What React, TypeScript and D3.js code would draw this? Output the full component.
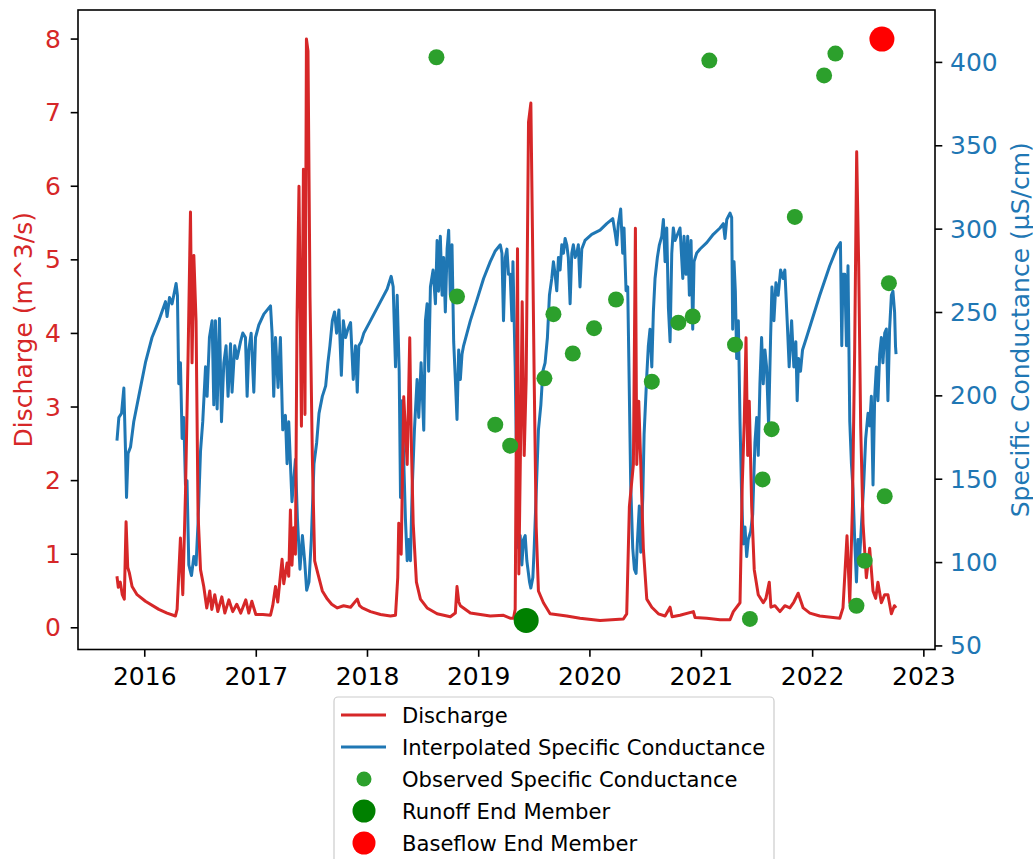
import React from "react";
import * as d3 from "d3";

// Daily discharge (m^3/s), time as decimal year
const dischargeSeries: [number, number][] = [
  [2015.750, 0.70], [2015.762, 0.55], [2015.780, 0.62], [2015.798, 0.45], [2015.816, 0.39],
  [2015.832, 1.44], [2015.847, 0.82], [2015.861, 0.75], [2015.886, 0.56], [2015.931, 0.45],
  [2016.006, 0.36], [2016.126, 0.25], [2016.200, 0.20], [2016.275, 0.16], [2016.290, 0.25],
  [2016.320, 1.22], [2016.341, 0.45], [2016.365, 1.82], [2016.388, 3.66], [2016.410, 5.65],
  [2016.424, 3.60], [2016.440, 5.06], [2016.460, 4.17], [2016.478, 1.54], [2016.500, 0.79],
  [2016.529, 0.56], [2016.556, 0.27], [2016.583, 0.50], [2016.601, 0.25], [2016.628, 0.45],
  [2016.655, 0.22], [2016.691, 0.42], [2016.718, 0.20], [2016.754, 0.38], [2016.789, 0.22],
  [2016.825, 0.32], [2016.861, 0.20], [2016.906, 0.38], [2016.933, 0.20], [2016.960, 0.36],
  [2016.996, 0.18], [2017.059, 0.18], [2017.128, 0.17], [2017.148, 0.30], [2017.173, 0.56],
  [2017.193, 0.35], [2017.232, 0.93], [2017.247, 0.60], [2017.277, 0.88], [2017.292, 0.70],
  [2017.307, 1.60], [2017.321, 0.85], [2017.337, 1.36], [2017.352, 1.00], [2017.366, 4.14],
  [2017.384, 6.00], [2017.406, 2.74], [2017.424, 6.23], [2017.438, 2.90], [2017.451, 8.00],
  [2017.465, 7.84], [2017.483, 4.50], [2017.504, 2.34], [2017.525, 0.91], [2017.555, 0.73],
  [2017.594, 0.50], [2017.639, 0.39], [2017.678, 0.32], [2017.729, 0.27], [2017.785, 0.30],
  [2017.848, 0.28], [2017.908, 0.39], [2017.929, 0.30], [2017.953, 0.27], [2018.027, 0.22],
  [2018.117, 0.18], [2018.207, 0.16], [2018.252, 0.17], [2018.272, 0.68], [2018.281, 1.42],
  [2018.303, 1.00], [2018.326, 3.14], [2018.357, 2.22], [2018.380, 3.94], [2018.393, 2.60],
  [2018.411, 1.42], [2018.440, 0.62], [2018.476, 0.39], [2018.536, 0.27], [2018.626, 0.19],
  [2018.745, 0.15], [2018.790, 0.20], [2018.805, 0.56], [2018.821, 0.35], [2018.835, 0.30],
  [2018.925, 0.20], [2019.104, 0.16], [2019.223, 0.17], [2019.283, 0.13], [2019.313, 0.13],
  [2019.328, 0.25], [2019.349, 5.15], [2019.361, 0.73], [2019.379, 2.80], [2019.391, 4.43],
  [2019.409, 2.34], [2019.427, 3.37], [2019.448, 6.87], [2019.469, 7.13], [2019.483, 5.43],
  [2019.499, 3.37], [2019.517, 1.37], [2019.537, 0.50], [2019.582, 0.34], [2019.642, 0.19],
  [2019.792, 0.16], [2019.911, 0.13], [2020.091, 0.10], [2020.300, 0.12], [2020.330, 0.19],
  [2020.354, 1.65], [2020.390, 2.22], [2020.408, 5.43], [2020.420, 2.22], [2020.438, 3.08],
  [2020.456, 2.22], [2020.479, 1.08], [2020.510, 0.39], [2020.555, 0.28], [2020.614, 0.19],
  [2020.674, 0.16], [2020.719, 0.28], [2020.737, 0.15], [2020.808, 0.17], [2020.928, 0.22],
  [2020.943, 0.14], [2021.048, 0.13], [2021.167, 0.11], [2021.257, 0.11], [2021.287, 0.22],
  [2021.347, 0.34], [2021.367, 1.94], [2021.385, 2.80], [2021.401, 3.94], [2021.416, 2.34],
  [2021.430, 3.08], [2021.452, 1.65], [2021.475, 0.79], [2021.511, 0.45], [2021.556, 0.34],
  [2021.580, 0.40], [2021.610, 0.62], [2021.625, 0.28], [2021.661, 0.30], [2021.706, 0.22],
  [2021.750, 0.30], [2021.795, 0.27], [2021.831, 0.35], [2021.870, 0.47], [2021.915, 0.27],
  [2021.975, 0.20], [2022.064, 0.16], [2022.244, 0.13], [2022.273, 0.27], [2022.309, 1.25],
  [2022.334, 0.34], [2022.358, 1.65], [2022.378, 3.77], [2022.396, 6.47], [2022.414, 4.93],
  [2022.432, 2.74], [2022.453, 1.42], [2022.483, 0.68], [2022.513, 1.08], [2022.543, 0.50],
  [2022.567, 0.40], [2022.587, 0.62], [2022.618, 0.34], [2022.648, 0.45], [2022.677, 0.45],
  [2022.708, 0.19], [2022.735, 0.30], [2022.750, 0.27],
];

// Interpolated specific conductance (µS/cm), time as decimal year
const conductanceSeries: [number, number][] = [
  [2015.750, 173.1], [2015.767, 187.0], [2015.791, 189.5], [2015.812, 204.7], [2015.827, 166.8],
  [2015.836, 139.0], [2015.850, 165.5], [2015.872, 169.3], [2015.901, 184.5], [2015.946, 199.7],
  [2016.006, 219.9], [2016.065, 235.0], [2016.126, 245.1], [2016.186, 256.5], [2016.200, 247.6],
  [2016.222, 259.0], [2016.245, 255.2], [2016.281, 267.4], [2016.293, 260.3], [2016.305, 207.2],
  [2016.320, 219.8], [2016.335, 174.4], [2016.350, 187.0], [2016.365, 146.7], [2016.379, 149.1],
  [2016.395, 98.6], [2016.419, 92.2], [2016.440, 103.6], [2016.460, 98.6], [2016.478, 124.0],
  [2016.500, 166.8], [2016.520, 184.5], [2016.545, 217.4], [2016.559, 199.7], [2016.580, 235.0],
  [2016.604, 245.1], [2016.619, 194.6], [2016.634, 245.1], [2016.649, 192.1], [2016.670, 246.4],
  [2016.688, 184.5], [2016.709, 219.8], [2016.729, 230.0], [2016.747, 199.7], [2016.769, 231.2],
  [2016.783, 202.2], [2016.807, 230.0], [2016.828, 222.4], [2016.859, 232.5], [2016.879, 237.7],
  [2016.903, 235.0], [2016.918, 199.7], [2016.933, 227.5], [2016.954, 237.6], [2016.978, 202.2],
  [2016.993, 235.0], [2017.023, 242.5], [2017.068, 249.0], [2017.128, 254.0], [2017.142, 237.6],
  [2017.157, 199.7], [2017.173, 235.0], [2017.196, 205.0], [2017.217, 235.0], [2017.238, 179.6],
  [2017.262, 188.3], [2017.277, 159.3], [2017.292, 184.5], [2017.321, 136.5], [2017.352, 161.8],
  [2017.370, 126.4], [2017.393, 96.0], [2017.415, 116.2], [2017.435, 101.1], [2017.453, 83.4],
  [2017.474, 88.4], [2017.495, 113.8], [2017.519, 159.3], [2017.543, 171.9], [2017.564, 189.5],
  [2017.594, 199.7], [2017.624, 206.0], [2017.644, 219.8], [2017.662, 230.0], [2017.684, 245.1],
  [2017.704, 250.3], [2017.722, 237.6], [2017.743, 251.5], [2017.765, 212.3], [2017.783, 245.1],
  [2017.803, 235.0], [2017.824, 240.1], [2017.848, 243.9], [2017.872, 209.8], [2017.893, 230.0],
  [2017.908, 202.2], [2017.922, 230.0], [2017.944, 232.5], [2017.967, 237.6], [2018.027, 245.1],
  [2018.117, 256.5], [2018.177, 264.1], [2018.213, 271.7], [2018.231, 265.4], [2018.252, 217.4],
  [2018.267, 260.3], [2018.285, 214.8], [2018.297, 139.0], [2018.312, 197.1], [2018.326, 161.7],
  [2018.341, 126.4], [2018.357, 101.1], [2018.371, 113.8], [2018.386, 101.1], [2018.402, 144.0],
  [2018.422, 179.4], [2018.446, 209.8], [2018.461, 187.0], [2018.482, 219.8], [2018.506, 179.4],
  [2018.521, 245.1], [2018.536, 255.2], [2018.550, 214.8], [2018.566, 265.4], [2018.590, 275.5],
  [2018.611, 255.2], [2018.626, 293.2], [2018.640, 262.8], [2018.655, 295.7], [2018.671, 260.3],
  [2018.685, 283.0], [2018.700, 250.3], [2018.716, 288.1], [2018.730, 299.4], [2018.745, 260.3],
  [2018.760, 290.6], [2018.775, 232.5], [2018.790, 209.8], [2018.805, 185.8], [2018.820, 227.5],
  [2018.835, 209.8], [2018.850, 225.0], [2018.864, 230.0], [2018.925, 245.1], [2018.985, 257.7],
  [2019.044, 270.4], [2019.104, 280.5], [2019.149, 286.9], [2019.194, 290.6], [2019.209, 285.5],
  [2019.223, 245.1], [2019.239, 283.0], [2019.254, 288.0], [2019.268, 272.9], [2019.283, 272.9],
  [2019.299, 245.1], [2019.308, 280.5], [2019.319, 245.1], [2019.328, 217.4], [2019.344, 144.0],
  [2019.358, 108.7], [2019.373, 116.2], [2019.388, 98.6], [2019.403, 113.8], [2019.418, 116.2],
  [2019.433, 101.1], [2019.457, 88.4], [2019.469, 84.7], [2019.487, 91.0], [2019.499, 108.7],
  [2019.517, 141.5], [2019.537, 179.4], [2019.559, 194.6], [2019.577, 214.8], [2019.597, 219.8],
  [2019.618, 235.0], [2019.636, 260.3], [2019.657, 270.4], [2019.672, 280.5], [2019.687, 272.9],
  [2019.702, 263.0], [2019.717, 283.0], [2019.732, 275.5], [2019.747, 290.6], [2019.762, 285.5],
  [2019.777, 294.4], [2019.792, 290.6], [2019.806, 283.0], [2019.822, 255.2], [2019.837, 285.5],
  [2019.851, 290.6], [2019.867, 283.0], [2019.882, 285.5], [2019.896, 290.6], [2019.911, 265.3],
  [2019.927, 288.1], [2019.956, 293.2], [2020.016, 296.9], [2020.091, 299.4], [2020.151, 303.3],
  [2020.205, 306.3], [2020.225, 298.2], [2020.241, 290.6], [2020.255, 303.3], [2020.276, 312.1],
  [2020.294, 285.5], [2020.306, 300.7], [2020.324, 263.0], [2020.339, 265.4], [2020.354, 199.7],
  [2020.366, 146.6], [2020.384, 108.7], [2020.399, 96.0], [2020.414, 93.5], [2020.425, 111.2],
  [2020.443, 134.0], [2020.456, 106.2], [2020.474, 139.0], [2020.486, 176.9], [2020.510, 212.3],
  [2020.524, 230.0], [2020.539, 240.0], [2020.555, 217.3], [2020.569, 250.2], [2020.584, 270.4],
  [2020.605, 283.0], [2020.623, 290.6], [2020.644, 295.7], [2020.659, 305.8], [2020.674, 280.5],
  [2020.689, 300.7], [2020.704, 252.7], [2020.719, 232.5], [2020.734, 285.5], [2020.748, 300.7],
  [2020.764, 293.2], [2020.779, 295.7], [2020.808, 300.7], [2020.833, 270.4], [2020.844, 295.7],
  [2020.862, 272.9], [2020.877, 295.7], [2020.892, 260.3], [2020.907, 293.2], [2020.922, 240.0],
  [2020.934, 280.5], [2020.958, 285.7], [2020.988, 288.1], [2021.048, 291.9], [2021.107, 296.9],
  [2021.167, 300.7], [2021.197, 303.3], [2021.212, 294.4], [2021.228, 305.8], [2021.257, 309.6],
  [2021.272, 307.0], [2021.281, 240.0], [2021.293, 280.5], [2021.305, 262.8], [2021.317, 222.4],
  [2021.332, 245.1], [2021.347, 184.5], [2021.362, 139.0], [2021.376, 111.2], [2021.392, 121.3],
  [2021.407, 103.6], [2021.421, 113.8], [2021.443, 118.8], [2021.461, 128.9], [2021.481, 171.9],
  [2021.497, 187.0], [2021.511, 164.3], [2021.526, 207.2], [2021.541, 235.0], [2021.556, 207.2],
  [2021.571, 227.5], [2021.586, 217.3], [2021.604, 182.0], [2021.622, 235.0], [2021.634, 265.3],
  [2021.652, 245.1], [2021.670, 267.8], [2021.690, 260.3], [2021.712, 275.5], [2021.735, 270.4],
  [2021.750, 275.5], [2021.771, 245.1], [2021.789, 217.4], [2021.811, 245.1], [2021.831, 217.3],
  [2021.849, 232.5], [2021.861, 197.1], [2021.873, 222.4], [2021.891, 214.8], [2021.909, 227.5],
  [2021.945, 235.0], [2022.004, 247.6], [2022.064, 260.3], [2022.154, 278.0], [2022.214, 288.0],
  [2022.250, 291.9], [2022.262, 230.0], [2022.273, 272.9], [2022.289, 272.9], [2022.304, 230.0],
  [2022.318, 278.0], [2022.334, 184.5], [2022.349, 159.2], [2022.363, 144.0], [2022.378, 113.8],
  [2022.394, 88.4], [2022.408, 113.8], [2022.423, 103.6], [2022.438, 121.3], [2022.459, 146.6],
  [2022.477, 174.4], [2022.498, 189.5], [2022.513, 182.0], [2022.528, 199.7], [2022.543, 146.6],
  [2022.558, 199.7], [2022.573, 217.3], [2022.587, 197.1], [2022.603, 225.0], [2022.618, 235.0],
  [2022.632, 219.8], [2022.648, 237.6], [2022.663, 240.1], [2022.677, 197.1], [2022.692, 240.1],
  [2022.708, 260.3], [2022.722, 262.8], [2022.737, 250.2], [2022.745, 230.0], [2022.750, 225.0],
];

// Grab-sample specific conductance (µS/cm)
const observedConductance: [number, number][] = [
  [2018.620, 403.1], [2018.805, 259.6], [2019.149, 182.7], [2019.283, 170.1], [2019.591, 210.5],
  [2019.672, 249.0], [2019.846, 225.4], [2020.037, 240.6], [2020.234, 257.8], [2020.555, 208.5],
  [2020.793, 243.9], [2020.922, 247.6], [2021.071, 401.1], [2021.302, 230.7], [2021.436, 66.2],
  [2021.550, 149.9], [2021.631, 180.0], [2021.840, 307.3], [2022.103, 392.2], [2022.205, 405.3],
  [2022.394, 74.1], [2022.468, 101.1], [2022.648, 139.8], [2022.686, 267.6],
];

const runoffEndMember: [number, number] = [2019.427, 65.3];
const baseflowEndMember: [number, number] = [2022.623, 414.0];

const yearTicks = [2016, 2017, 2018, 2019, 2020, 2021, 2022, 2023];
const dischargeTicks = [0, 1, 2, 3, 4, 5, 6, 7, 8];
const conductanceTicks = [50, 100, 150, 200, 250, 300, 350, 400];

const legendItems = [
  "Discharge",
  "Interpolated Specific Conductance",
  "Observed Specific Conductance",
  "Runoff End Member",
  "Baseflow End Member",
];

const RED = "#d62728";
const BLUE = "#1f77b4";
const GREEN = "#2ca02c";
const FONT = "DejaVu Sans, Liberation Sans, sans-serif";

function toDate(decimalYear: number): Date {
  const year = Math.floor(decimalYear);
  const start = new Date(year, 0, 1).getTime();
  const end = new Date(year + 1, 0, 1).getTime();
  return new Date(start + (decimalYear - year) * (end - start));
}

function pad(lo: number, hi: number, frac = 0.05): [number, number] {
  const p = (hi - lo) * frac;
  return [lo - p, hi + p];
}

export default function App() {
  const W = 1033;
  const H = 859;
  const left = 78;
  const right = 935;
  const top = 10;
  const bottom = 649.5;
  const tickLen = 7.3;

  const t0 = toDate(dischargeSeries[0][0]).getTime();
  const t1 = toDate(dischargeSeries[dischargeSeries.length - 1][0]).getTime();
  const [tx0, tx1] = pad(t0, t1);
  const x = d3.scaleTime().domain([new Date(tx0), new Date(tx1)]).range([left, right]);

  const qExt = d3.extent(dischargeSeries, (d) => d[1]) as [number, number];
  const yQ = d3.scaleLinear().domain(pad(qExt[0], qExt[1])).range([bottom, top]);

  const scValues = [
    ...conductanceSeries.map((d) => d[1]),
    ...observedConductance.map((d) => d[1]),
    runoffEndMember[1],
    baseflowEndMember[1],
  ];
  const scExt = d3.extent(scValues) as [number, number];
  const ySC = d3.scaleLinear().domain(pad(scExt[0], scExt[1])).range([bottom, top]);

  const qLine = d3
    .line<[number, number]>()
    .x((d) => x(toDate(d[0])))
    .y((d) => yQ(d[1]));
  const scLine = d3
    .line<[number, number]>()
    .x((d) => x(toDate(d[0])))
    .y((d) => ySC(d[1]));

  const legendX = 334;
  const legendY = 697;
  const rowH = 32;

  return (
    <svg
      width={W}
      height={H}
      style={{ position: "absolute", left: 0, top: 0, background: "#fff" }}
      fontFamily={FONT}
    >
      <rect x={0} y={0} width={W} height={H} fill="#fff" />

      <path d={scLine(conductanceSeries) ?? ""} fill="none" stroke={BLUE} strokeWidth={3} strokeLinejoin="round" />
      <path d={qLine(dischargeSeries) ?? ""} fill="none" stroke={RED} strokeWidth={3} strokeLinejoin="round" />

      {observedConductance.map((d, i) => (
        <circle key={i} cx={x(toDate(d[0]))} cy={ySC(d[1])} r={8} fill={GREEN} />
      ))}
      <circle cx={x(toDate(runoffEndMember[0]))} cy={ySC(runoffEndMember[1])} r={12.5} fill="#008000" />
      <circle cx={x(toDate(baseflowEndMember[0]))} cy={ySC(baseflowEndMember[1])} r={12.5} fill="#ff0000" />

      {/* frame */}
      <rect x={left} y={top} width={right - left} height={bottom - top} fill="none" stroke="#000" strokeWidth={1.6} />

      {/* bottom axis */}
      {yearTicks.map((yr) => {
        const px = x(new Date(yr, 0, 1));
        return (
          <g key={yr}>
            <line x1={px} x2={px} y1={bottom} y2={bottom + tickLen} stroke="#000" strokeWidth={1.6} />
            <text x={px} y={685} textAnchor="middle" fontSize={25} fill="#000">
              {yr}
            </text>
          </g>
        );
      })}

      {/* left axis: discharge */}
      {dischargeTicks.map((v) => (
        <g key={v}>
          <line x1={left - tickLen} x2={left} y1={yQ(v)} y2={yQ(v)} stroke="#000" strokeWidth={1.6} />
          <text x={61} y={yQ(v)} textAnchor="end" dominantBaseline="central" fontSize={25} fill={RED}>
            {v}
          </text>
        </g>
      ))}
      <text
        transform={`translate(23,${(top + bottom) / 2}) rotate(-90)`}
        textAnchor="middle"
        dominantBaseline="central"
        fontSize={25}
        fill={RED}
      >
        Discharge (m^3/s)
      </text>

      {/* right axis: specific conductance */}
      {conductanceTicks.map((v) => (
        <g key={v}>
          <line x1={right} x2={right + tickLen} y1={ySC(v)} y2={ySC(v)} stroke="#000" strokeWidth={1.6} />
          <text x={950} y={ySC(v)} textAnchor="start" dominantBaseline="central" fontSize={25} fill={BLUE}>
            {v}
          </text>
        </g>
      ))}
      <text
        transform={`translate(1020,${(top + bottom) / 2}) rotate(-90)`}
        textAnchor="middle"
        dominantBaseline="central"
        fontSize={25}
        fill={BLUE}
      >
        Specific Conductance (μS/cm)
      </text>

      {/* legend */}
      <g>
        <rect
          x={legendX}
          y={legendY}
          width={440}
          height={180}
          rx={4}
          fill="#fff"
          fillOpacity={0.8}
          stroke="#cccccc"
          strokeWidth={1.2}
        />
        {legendItems.map((label, i) => {
          const cy = legendY + 18 + i * rowH;
          let handle: React.ReactNode = null;
          if (i === 0) handle = <line x1={341} x2={386} y1={cy} y2={cy} stroke={RED} strokeWidth={3} />;
          else if (i === 1) handle = <line x1={341} x2={386} y1={cy} y2={cy} stroke={BLUE} strokeWidth={3} />;
          else if (i === 2) handle = <circle cx={364} cy={cy} r={7.5} fill={GREEN} />;
          else if (i === 3) handle = <circle cx={364} cy={cy} r={11.5} fill="#008000" />;
          else handle = <circle cx={364} cy={cy} r={11.5} fill="#ff0000" />;
          return (
            <g key={label}>
              {handle}
              <text x={402} y={cy} dominantBaseline="central" fontSize={21.1} fill="#000">
                {label}
              </text>
            </g>
          );
        })}
      </g>
    </svg>
  );
}
